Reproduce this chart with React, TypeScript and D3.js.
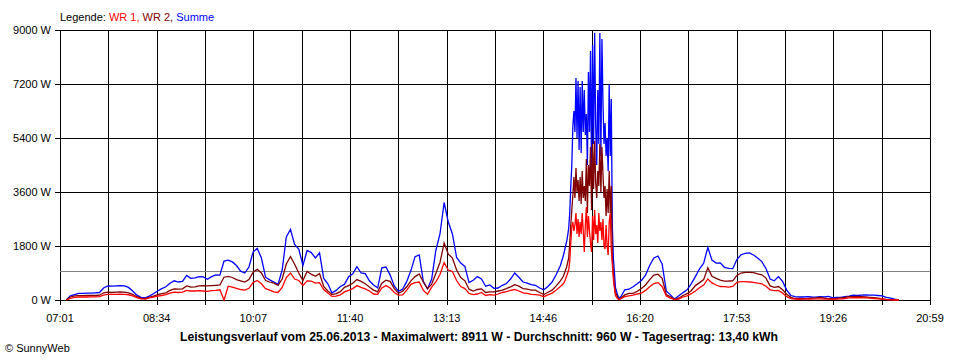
import React from "react";
import * as d3 from "d3";

// minutes since midnight; 4-min samples, 1-min samples around the midday burst
const times = [...d3.range(427, 904, 4), ...d3.range(906, 962, 1), ...d3.range(965, 1230, 4)];

const summe = [
  0, 140, 180, 220, 220, 230, 230, 240, 250, 400,
  470, 460, 470, 480, 470, 420, 300, 160, 90, 70,
  130, 210, 300, 380, 440, 560, 640, 600, 620, 820,
  720, 740, 780, 770, 690, 780, 840, 830, 1300, 1330,
  1270, 1150, 960, 900, 1100, 1600, 1720, 1400, 760, 670,
  600, 520, 1000, 2100, 2350, 1850, 1700, 1150, 1650, 1580,
  1400, 1570, 720, 540, 230, 320, 450, 520, 780, 870,
  1110, 900, 880, 640, 500, 400, 1070, 1100, 830, 470,
  290, 360, 620, 980, 1444, 1500, 611, 370, 700, 1650,
  2200, 3250, 2600, 2200, 1420, 1230, 1120, 580, 660, 780,
  700, 460, 500, 390, 400, 490, 550, 700, 900, 760,
  600, 560, 510, 490, 400, 340, 450, 600, 850, 1150,
  // burst
  1500, 1650, 1800, 1950, 2150, 2400, 2900, 3800, 4500, 5800,
  6300, 5600, 7400, 5400, 7300, 5000, 7100, 4900, 7300, 5600,
  7000, 5500, 6200, 4500, 7600, 5600, 8300, 4300, 8500, 5200,
  8911, 5800, 4500, 7000, 5200, 8900, 4800, 8700, 6600, 5200,
  5900, 4800, 5400, 4300, 7200, 4800, 6700, 2500, 1400, 950,
  420, 300, 170, 100, 60, 100,
  // afternoon
  340, 360, 440, 540, 650, 830, 1150, 1400, 1467, 1200,
  300, 170, 30, 140, 240, 340, 540, 780, 1040, 1230,
  1750, 1330, 1230, 1240, 1090, 1055, 1045, 1350, 1510, 1555,
  1570, 1500, 1400, 1280, 1050, 700, 640, 780, 620, 330,
  150, 110, 100, 100, 110, 100, 95, 110, 100, 120,
  80, 90, 90, 110, 130, 160, 150, 160, 170, 160,
  160, 150, 140, 90, 60, 25, 0,
];

const wr2 = [
  0, 100, 140, 145, 145, 150, 150, 150, 160, 240,
  260, 250, 260, 270, 260, 240, 190, 110, 60, 50,
  90, 130, 180, 215, 240, 320, 370, 360, 370, 470,
  430, 440, 470, 480, 470, 480, 490, 500, 760, 790,
  750, 680, 640, 600, 680, 930, 1020, 900, 650, 600,
  560, 490, 700, 1200, 1450, 1190, 900, 650, 950, 860,
  790, 880, 450, 300, 180, 210, 280, 420, 480, 560,
  680, 620, 540, 430, 330, 270, 560, 660, 620, 380,
  230, 290, 440, 640, 780, 870, 600, 380, 530, 880,
  1250, 1900, 1530, 1400, 1000, 750, 640, 360, 300, 350,
  370, 250, 270, 270, 300, 330, 380, 440, 510, 460,
  380, 360, 330, 330, 250, 180, 260, 330, 470, 640,
  // burst
  800, 900, 1000, 1100, 1250, 1400, 1900, 2500, 3000, 3500,
  4100, 3400, 4400, 3600, 4000, 3300, 4100, 3200, 4300, 3400,
  3800, 3300, 4700, 2900, 4500, 3800, 5100, 3000, 5200, 3700,
  5300, 3900, 3400, 4300, 3800, 5200, 3600, 5100, 4200, 3400,
  3800, 2800, 3700, 2900, 4300, 2900, 3800, 1400, 900, 500,
  250, 180, 100, 40, 30, 60,
  // afternoon
  170, 220, 222, 290, 380, 500, 680, 830, 860, 720,
  180, 110, 20, 60, 150, 210, 310, 480, 580, 680,
  1080, 790, 720, 660, 630, 633, 640, 820, 900, 922,
  922, 911, 870, 840, 730, 470, 420, 450, 340, 190,
  90, 50, 45, 45, 50, 60, 70, 90, 60, 45,
  45, 50, 70, 90, 110, 110, 120, 110, 100, 90,
  80, 60, 40, 20, 10, 0, 0,
];

const wr1 = [
  0, 50, 90, 100, 100, 100, 105, 105, 110, 160,
  190, 185, 190, 195, 190, 175, 140, 80, 40, 30,
  70, 100, 130, 150, 180, 230, 260, 250, 260, 320,
  300, 300, 310, 300, 290, 310, 320, 340, 0, 460,
  430, 390, 350, 330, 390, 580, 650, 540, 380, 330,
  270, 250, 420, 750, 900, 700, 650, 480, 640, 630,
  560, 580, 350, 230, 120, 130, 170, 270, 320, 380,
  480, 420, 370, 300, 200, 190, 400, 480, 400, 250,
  160, 170, 330, 520, 580, 600, 320, 190, 430, 600,
  850, 1250, 1000, 950, 650, 450, 380, 220, 180, 200,
  250, 150, 180, 160, 200, 250, 280, 320, 350, 300,
  240, 220, 190, 180, 160, 110, 170, 230, 330, 450,
  // burst
  550, 620, 700, 800, 900, 1000, 1300, 1900, 2450, 2600,
  2300, 2500, 2900, 2200, 2700, 2100, 2600, 2200, 2900, 2300,
  1600, 2500, 3100, 2100, 2800, 2300, 1900, 1600, 2800, 2000,
  3000, 2200, 2500, 1900, 2900, 2300, 2600, 2000, 2700, 1800,
  1700, 2500, 1800, 1500, 2600, 2900, 1700, 1200, 700, 400,
  150, 100, 40, 20, 10, 40,
  // afternoon
  110, 140, 160, 200, 230, 320, 440, 550, 580, 450,
  130, 60, 10, 30, 100, 140, 210, 300, 410, 500,
  700, 570, 500, 450, 444, 430, 450, 590, 610, 611,
  600, 590, 560, 540, 460, 340, 310, 320, 230, 110,
  45, 30, 25, 30, 35, 30, 40, 40, 30, 30,
  25, 30, 40, 50, 70, 75, 80, 75, 70, 60,
  50, 40, 30, 15, 5, 0, 0,
];

const yTicks = [0, 1800, 3600, 5400, 7200, 9000];
const xTickLabels = ["07:01", "08:34", "10:07", "11:40", "13:13", "14:46", "16:20", "17:53", "19:26", "20:59"];
const durchschnitt = 960;
const titel = "Leistungsverlauf vom 25.06.2013 - Maximalwert: 8911 W - Durchschnitt: 960 W - Tagesertrag: 13,40 kWh";

const FONT = "'Liberation Sans', Arial, sans-serif";

export default function App() {
  const width = 960;
  const height = 360;
  const margin = { top: 30, right: 30, bottom: 60, left: 60 };

  const x = d3.scaleLinear().domain([421, 1259]).range([margin.left, width - margin.right]);
  const y = d3.scaleLinear().domain([0, 9000]).range([height - margin.bottom, margin.top]);

  // 18 equal steps between first and last time label
  const gridTimes = d3.range(19).map((i) => 421 + (838 * i) / 18);
  const px = (v: number) => Math.round(v) + 0.5;

  const line = d3
    .line<number>()
    .x((_, i) => x(times[i]))
    .y((d) => y(d));

  // drawn back to front: sum first, inverters on top
  const series = [
    { name: "Summe", values: summe, color: "#0000ff" },
    { name: "WR 2", values: wr2, color: "#800000" },
    { name: "WR 1", values: wr1, color: "#ff0000" },
  ];

  return (
    <svg
      width={width}
      height={height}
      style={{ position: "absolute", left: 0, top: 0, background: "#fff" }}
      fontFamily={FONT}
      fontSize={11}
    >
      {/* legend */}
      <text x={60} y={21}>
        <tspan fill="#000">Legende: </tspan>
        <tspan fill="#ff0000">WR 1, </tspan>
        <tspan fill="#800000">WR 2, </tspan>
        <tspan fill="#0000ff">Summe</tspan>
      </text>

      {/* grid + tick marks */}
      <g shapeRendering="crispEdges" stroke="#000">
        {gridTimes.map((t, i) => (
          <line key={i} x1={px(x(t))} x2={px(x(t))} y1={margin.top} y2={height - margin.bottom + 5} />
        ))}
        {yTicks.map((v) => (
          <line key={v} x1={margin.left - 5} x2={width - margin.right} y1={px(y(v))} y2={px(y(v))} />
        ))}
      </g>

      {yTicks.map((v) => (
        <text key={v} x={51} y={y(v)} dy="0.35em" textAnchor="end">
          {`${v} W`}
        </text>
      ))}

      {xTickLabels.map((lab, i) => (
        <text key={lab} x={x(gridTimes[i * 2])} y={322} textAnchor="middle">
          {lab}
        </text>
      ))}

      {/* daily average */}
      <line
        x1={margin.left}
        x2={width - margin.right}
        y1={px(y(durchschnitt))}
        y2={px(y(durchschnitt))}
        stroke="#808080"
        strokeWidth={1}
        shapeRendering="crispEdges"
      />

      {series.map((s) => (
        <path key={s.name} d={line(s.values) || ""} fill="none" stroke={s.color} strokeWidth={1.3} />
      ))}

      <text x={180} y={341} fontWeight="bold" fontSize={12} textLength={598} lengthAdjust="spacingAndGlyphs">
        {titel}
      </text>
      <text x={5} y={352}>© SunnyWeb</text>
    </svg>
  );
}
